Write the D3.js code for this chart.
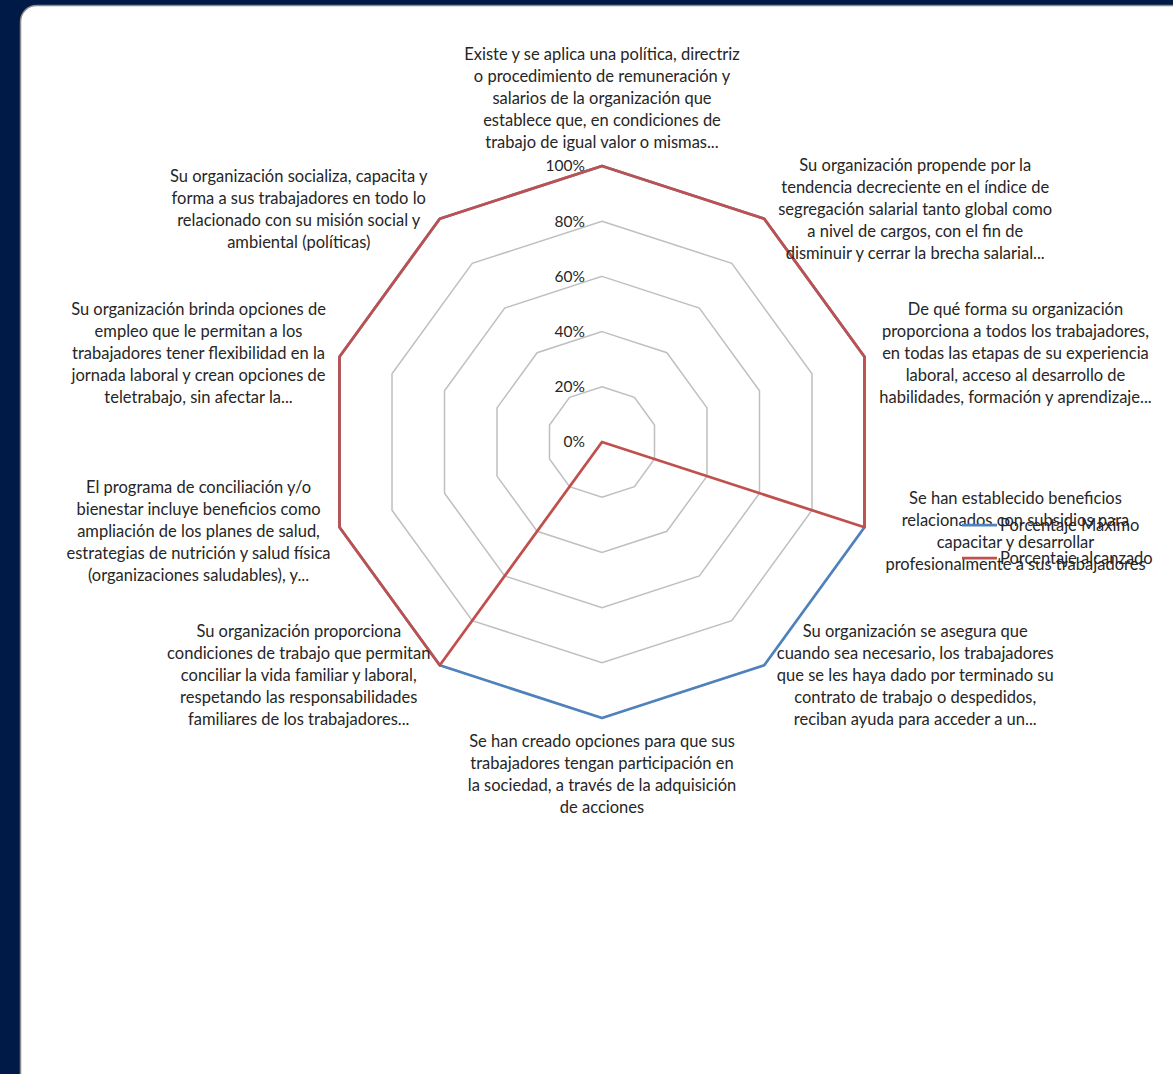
<!DOCTYPE html>
<html>
<head>
<meta charset="utf-8">
<script src="https://cdn.jsdelivr.net/npm/d3@7"></script>
<style>
  html, body { margin: 0; padding: 0; background: #001a47; overflow: hidden; }
  #chart-container { width: 1173px; height: 1074px; }
  text { font-family: Lato, "Open Sans", sans-serif; fill: #262626; }
</style>
</head>
<body>
<div id="chart-container"></div>
<script>
// Chart data
const categories = [
  ["Existe y se aplica una política, directriz", "o procedimiento de remuneración y", "salarios de la organización que", "establece que, en condiciones de", "trabajo de igual valor o mismas..."],
  ["Su organización propende por la", "tendencia decreciente en el índice de", "segregación salarial tanto global como", "a nivel de cargos, con el fin de", "disminuir y cerrar la brecha salarial..."],
  ["De qué forma su organización", "proporciona a todos los trabajadores,", "en todas las etapas de su experiencia", "laboral, acceso al desarrollo de", "habilidades, formación y aprendizaje..."],
  ["Se han establecido beneficios", "relacionados con subsidios para", "capacitar y desarrollar", "profesionalmente a sus trabajadores"],
  ["Su organización se asegura que", "cuando sea necesario, los trabajadores", "que se les haya dado por terminado su", "contrato de trabajo o despedidos,", "reciban ayuda para acceder a un..."],
  ["Se han creado opciones para que sus", "trabajadores tengan participación en", "la sociedad, a través de la adquisición", "de acciones"],
  ["Su organización proporciona", "condiciones de trabajo que permitan", "conciliar la vida familiar y laboral,", "respetando las responsabilidades", "familiares de los trabajadores..."],
  ["El programa de conciliación y/o", "bienestar incluye beneficios como", "ampliación de los planes de salud,", "estrategias de nutrición y salud física", "(organizaciones saludables), y..."],
  ["Su organización brinda opciones de", "empleo que le permitan a los", "trabajadores tener flexibilidad en la", "jornada laboral y crean opciones de", "teletrabajo, sin afectar la..."],
  ["Su organización socializa, capacita y", "forma a sus trabajadores en todo lo", "relacionado con su misión social y", "ambiental (políticas)"]
]
const porcentajeMaximo   = [1, 1, 1, 1, 1, 1, 1, 1, 1, 1]
const porcentajeAlcanzado = [1, 1, 1, 1, 0, 0, 1, 1, 1, 1]
const ticks = [0, 0.2, 0.4, 0.6, 0.8, 1]
const seriesNames = ["Porcentaje Máximo", "Porcentaje alcanzado"]
const seriesColors = ["#4f81bd", "#c0504d"]

const W = 1173, H = 1074
const cx = 602, cy = 442, R = 276
const N = categories.length
const lh = 22

const svg = d3.select("#chart-container")
  .append("svg")
  .attr("width", W)
  .attr("height", H)

// white panel with rounded corner
svg.append("rect")
  .attr("x", 20.5).attr("y", 5.5)
  .attr("width", W + 40).attr("height", H + 40)
  .attr("rx", 16)
  .attr("fill", "#ffffff")
  .attr("stroke", "#8a8a8a")
  .attr("stroke-width", 1.5)

const r = d3.scaleLinear().domain([0, 1]).range([0, R])
const angle = i => i * 2 * Math.PI / N

const pt = (i, v) => [cx + r(v) * Math.sin(angle(i)), cy - r(v) * Math.cos(angle(i))]

const line = d3.line()

// grid rings
svg.append("g")
  .selectAll("path")
  .data(ticks.filter(t => t > 0))
  .enter().append("path")
  .attr("d", t => line(d3.range(N).map(i => pt(i, t))) + "Z")
  .attr("fill", "none")
  .attr("stroke", "#bfbfbf")
  .attr("stroke-width", 1.5)

// tick labels
svg.append("g")
  .selectAll("text")
  .data(ticks)
  .enter().append("text")
  .attr("x", cx - 17)
  .attr("y", t => cy - r(t))
  .attr("dy", "0.35em")
  .attr("text-anchor", "end")
  .style("font-size", "15.5px")
  .text(d3.format(".0%"))

// series
const series = [porcentajeMaximo, porcentajeAlcanzado]
svg.append("g")
  .selectAll("path")
  .data(series)
  .enter().append("path")
  .attr("d", s => line(s.map((v, i) => pt(i, v))) + "Z")
  .attr("fill", "none")
  .attr("stroke", (s, k) => seriesColors[k])
  .attr("stroke-width", 2.75)
  .attr("stroke-linejoin", "round")

// category labels
categories.forEach((lines, i) => {
  const a = angle(i)
  const [vx, vy] = pt(i, 1)
  const s = Math.sin(a), c = Math.cos(a)
  let x, y0
  if (Math.abs(s) < 0.1) {
    x = vx
    y0 = c > 0 ? vy - 24 - (lines.length - 1) * lh : vy + 23
  } else {
    x = vx + (s > 0 ? 151 : -141)
    y0 = vy - c * 12 - (lines.length - 1) / 2 * lh
  }
  const t = svg.append("text")
    .attr("text-anchor", "middle")
    .style("font-size", "16.5px")
  lines.forEach((l, j) => {
    t.append("tspan")
      .attr("x", x)
      .attr("y", y0 + j * lh)
      .attr("dy", "0.35em")
      .text(l)
  })
})

// legend (overlapping, as in the original)
const legend = svg.append("g").attr("transform", "translate(962,525)")
seriesNames.forEach((name, k) => {
  legend.append("line")
    .attr("x1", 0).attr("x2", 35)
    .attr("y1", k * 33).attr("y2", k * 33)
    .attr("stroke", seriesColors[k])
    .attr("stroke-width", 2.75)
  legend.append("text")
    .attr("x", 38)
    .attr("y", k * 33)
    .attr("dy", "0.35em")
    .style("font-size", "16.5px")
    .text(name)
})
</script>
</body>
</html>
